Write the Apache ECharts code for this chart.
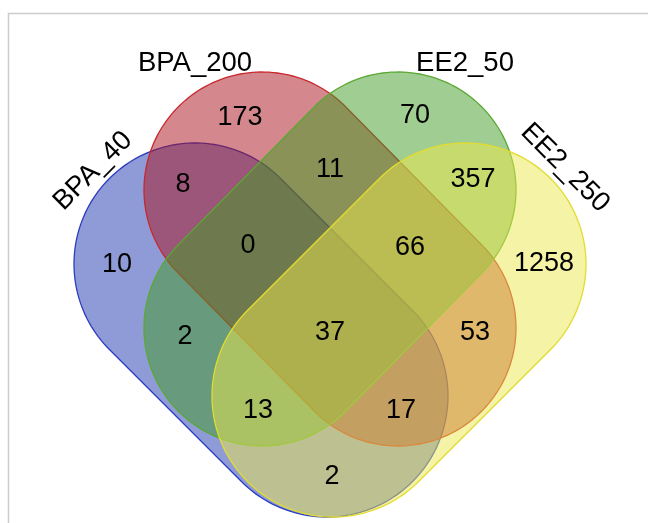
<!DOCTYPE html>
<html>
<head>
<meta charset="utf-8">
<script src="https://cdn.jsdelivr.net/npm/echarts@6/dist/echarts.min.js"></script>
<style>
html,body{margin:0;padding:0;background:#fff;}
#chart{width:648px;height:523px;}
</style>
</head>
<body>
<div id="chart"></div>
<script>
// ---- data ----
const setNames = ['BPA_40', 'BPA_200', 'EE2_50', 'EE2_250'];
const regionNames = [
  'BPA_200', 'EE2_50', 'BPA_40&BPA_200', 'BPA_200&EE2_50', 'EE2_50&EE2_250',
  'BPA_40', 'BPA_40&BPA_200&EE2_50', 'BPA_200&EE2_50&EE2_250', 'EE2_250',
  'BPA_40&EE2_50', 'All', 'BPA_200&EE2_250', 'BPA_40&EE2_50&EE2_250',
  'BPA_40&BPA_200&EE2_250', 'BPA_40&EE2_250'
];
const regionCounts = [173, 70, 8, 11, 357, 10, 0, 66, 1258, 2, 37, 53, 13, 17, 2];

// ---- layout (diagram units, origin at diagram centre, y up) ----
const regionPos = [
  [-90, 182], [85, 184], [-147, 115], [0, 130], [143, 120],
  [-213, 35], [-82, 54], [80, 52], [214, 36],
  [-145, -37], [0, -33], [145, -33], [-72, -111], [71, -111], [2, -177]
];
const setShapes = [
  { p1: [-135, 36], p2: [-3, -96], r: 121 },
  { p1: [-68, 110], p2: [68, -28], r: 118 },
  { p1: [68, 110], p2: [-68, -28], r: 118 },
  { p1: [135, 36], p2: [3, -96], r: 121 }
];
const setLabelPos = [[-237, 129], [-135, 237], [135, 237], [235, 132]];
const setLabelRot = [45, 0, 0, -45];
const fills = ['rgba(31,55,175,0.5)', 'rgba(170,18,28,0.5)', 'rgba(65,155,35,0.5)', 'rgba(236,232,75,0.5)'];
const strokes = ['#2a3cc0', '#c8282d', '#5aa832', '#e2dc30'];

const chart = echarts.init(document.getElementById('chart'), null, { renderer: 'canvas' });
const FONT = '"Liberation Sans", Arial, sans-serif';

const option = {
  backgroundColor: '#ffffff',
  animation: false,
  grid: { left: 0, right: 0, top: 0, bottom: 0 },
  xAxis: { type: 'value', min: -330, max: 318, show: false },
  yAxis: { type: 'value', min: -223, max: 300, show: false },
  graphic: [{
    type: 'rect', z: -10, silent: true,
    shape: { x: 8.5, y: 13.5, width: 700, height: 600 },
    style: { fill: 'none', stroke: '#cccccc', lineWidth: 1.5 }
  }],
  series: [
    {
      type: 'custom',
      coordinateSystem: 'cartesian2d',
      silent: true,
      data: setNames.map((n, i) => ({ name: n, value: setShapes[i].p1 })),
      renderItem: function (params, api) {
        const s = setShapes[params.dataIndex];
        const a = api.coord(s.p1), b = api.coord(s.p2);
        const R = api.size([s.r, 0])[0];
        const th = Math.atan2(b[1] - a[1], b[0] - a[0]);
        const pts = [];
        const N = 90;
        for (let k = 0; k <= N; k++) {
          const ang = th - Math.PI / 2 + Math.PI * k / N;
          pts.push([b[0] + R * Math.cos(ang), b[1] + R * Math.sin(ang)]);
        }
        for (let k = 0; k <= N; k++) {
          const ang = th + Math.PI / 2 + Math.PI * k / N;
          pts.push([a[0] + R * Math.cos(ang), a[1] + R * Math.sin(ang)]);
        }
        return {
          type: 'polygon',
          shape: { points: pts },
          style: { fill: fills[params.dataIndex], stroke: strokes[params.dataIndex], lineWidth: 1.3 }
        };
      },
      z: 1
    },
    {
      type: 'scatter',
      symbolSize: 0,
      silent: true,
      z: 5,
      data: regionCounts.map((c, i) => ({ name: regionNames[i], value: regionPos[i] })),
      label: {
        show: true, position: 'inside',
        formatter: p => String(regionCounts[p.dataIndex]),
        fontFamily: FONT, fontSize: 27, color: '#000',
        textBorderWidth: 0, opacity: 1
      }
    },
    {
      type: 'scatter',
      symbolSize: 0,
      silent: true,
      z: 5,
      data: setNames.map((n, i) => ({
        name: n, value: setLabelPos[i],
        label: { rotate: setLabelRot[i] }
      })),
      label: {
        show: true, position: 'inside',
        formatter: p => p.name,
        fontFamily: FONT, fontSize: 27.5, color: '#000',
        textBorderWidth: 0, opacity: 1
      }
    }
  ]
};
chart.setOption(option);
</script>
</body>
</html>
